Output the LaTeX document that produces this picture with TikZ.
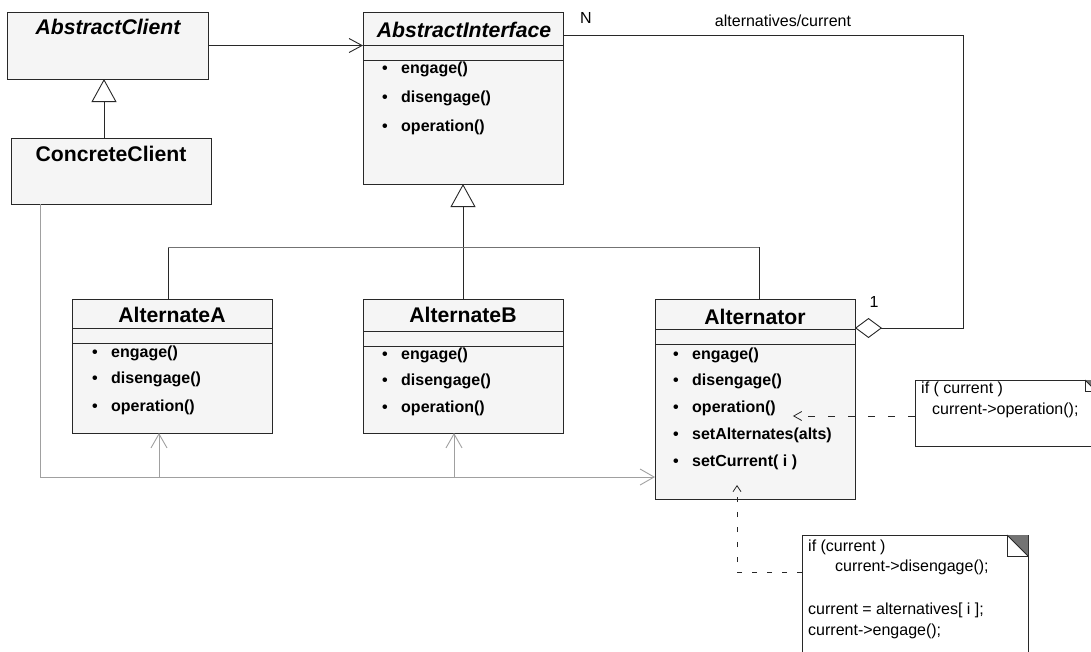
\documentclass[tikz,border=0pt]{standalone}
\usepackage{fontspec}
\setmainfont{Liberation Sans}
\usetikzlibrary{arrows.meta,positioning,calc}
\definecolor{boxfill}{RGB}{245,245,245}
\definecolor{umlline}{RGB}{40,40,40}
\definecolor{depgray}{RGB}{160,160,160}
\definecolor{bargray}{RGB}{115,115,115}
\definecolor{eargray}{RGB}{115,115,115}
\newcommand{\opitem}[1]{\makebox[19pt][l]{\textbullet}#1}
\tikzset{
  classbox/.style={rectangle,draw=umlline,fill=boxfill,line width=0.9pt,inner sep=0pt,outer sep=0pt,anchor=north west},
  classtitle/.style={inner sep=0pt,font=\fontsize{21.2}{25}\selectfont\bfseries},
  abstitle/.style={inner sep=0pt,font=\fontsize{21.2}{25}\selectfont\bfseries\itshape},
  method/.style={anchor=west,inner sep=0pt,font=\fontsize{16}{19}\selectfont\bfseries},
  sepline/.style={draw=umlline,line width=0.8pt},
  lbl/.style={inner sep=0pt,font=\fontsize{16}{19}\selectfont},
  note/.style={rectangle,draw=umlline,fill=white,line width=0.9pt,inner sep=0pt,outer sep=0pt,anchor=north west},
  notetext/.style={anchor=west,inner sep=0pt,font=\fontsize{16}{19}\selectfont},
  assocarr/.style={-{Straight Barb[length=13pt,width=14pt]},line width=0.9pt,color=umlline},
  inharr/.style={-{Triangle[open,fill=white,length=23pt,width=25pt]},line width=0.9pt,color=umlline},
  treeline/.style={line width=0.9pt,color=umlline},
  treebar/.style={line width=1pt,color=bargray},
  aggrline/.style={{Diamond[open,fill=white,length=27pt,width=20pt]}-,line width=0.9pt,color=umlline},
  deparr/.style={-{Straight Barb[length=14pt,width=16pt]},line width=0.9pt,color=depgray},
  depline/.style={line width=0.9pt,color=depgray},
  notearr/.style={-{Straight Barb[length=8pt,width=9pt]},line width=0.8pt,color=umlline,dash pattern=on 7pt off 13pt},
  notearrb/.style={-{Straight Barb[length=6pt,width=8pt]},line width=0.8pt,color=umlline,dash pattern=on 5pt off 10pt}
}

\begin{document}
\begin{tikzpicture}[x=1pt,y=-1pt]
  \useasboundingbox (0,0) rectangle (1091,651);
  \clip (0,0) rectangle (1091,651);

  %% Classes
  \node[classbox,minimum width=201pt,minimum height=67pt] (abclient) at (7,12) {};
  \node[abstitle] at (108,27) {AbstractClient};
  \node[classbox,minimum width=200pt,minimum height=66pt] (concl) at (11,138) {};
  \node[classtitle] at (111,154) {ConcreteClient};

  \node[classbox,minimum width=200pt,minimum height=172pt] (abiface) at (363,12) {};
  \node[abstitle] at (464,30) {AbstractInterface};

  \node[classbox,minimum width=200pt,minimum height=134pt] (altA) at (72,299) {};
  \node[classtitle] at (172,315) {AlternateA};
  \node[classbox,minimum width=200pt,minimum height=134pt] (altB) at (363,299) {};
  \node[classtitle] at (463,315) {AlternateB};
  \node[classbox,minimum width=200pt,minimum height=200pt] (altor) at (655,299) {};
  \node[classtitle] at (755,317) {Alternator};

  %% Compartment lines
  \foreach \c/\a/\b in {abiface/33/48,altA/29/44,altB/32/47,altor/30/45} {
    \draw[sepline] ([yshift=-\a pt]\c.north west) -- ([yshift=-\a pt]\c.north east);
    \draw[sepline] ([yshift=-\b pt]\c.north west) -- ([yshift=-\b pt]\c.north east);
  }

  %% Operations
  \foreach \y/\m [count=\i] in {69/engage(),98/disengage(),127/operation()}
    \node[method] (abiface-m\i) at (382,\y) {\opitem{\m}};
  \foreach \y/\m [count=\i] in {353/engage(),379/disengage(),407/operation()}
    \node[method] (altA-m\i) at (92,\y) {\opitem{\m}};
  \foreach \y/\m [count=\i] in {355/engage(),381/disengage(),408/operation()}
    \node[method] (altB-m\i) at (382,\y) {\opitem{\m}};
  \foreach \y/\m [count=\i] in {355/engage(),381/disengage(),408/operation(),435/setAlternates(alts),462/setCurrent( i )}
    \node[method] (altor-m\i) at (673,\y) {\opitem{\m}};

  %% Association and inheritance
  \draw[assocarr] (abclient.east) -- (abiface.west |- abclient.east);
  \draw[inharr] ([xshift=-7pt]concl.north) -- ([xshift=-3.5pt]abclient.south);
  \draw[inharr] (altB.north) -- (abiface.south);
  \draw[treeline] ([xshift=-4pt]altA.north) -- ++(0,-52) coordinate (tl);
  \draw[treeline] ([xshift=4pt]altor.north) -- ++(0,-52) coordinate (tr);
  \draw[treebar] (tl) -- (tr);

  %% Aggregation
  \draw[aggrline] ([yshift=-29pt]altor.north east) -- ++(108,0) |- ([yshift=-23pt]abiface.north east);
  \node[lbl] at (586,18) {N};
  \node[lbl] at (783,21) {alternatives/current};
  \node[lbl] at (874,302) {1};

  %% Client uses
  \coordinate (bus) at ([yshift=-78pt]altor.west);
  \coordinate (tapA) at ([xshift=-13pt]altA.south);
  \coordinate (tapB) at ([xshift=-9pt]altB.south);
  \draw[deparr] ([xshift=-71pt]concl.south) |- (bus);
  \draw[deparr] (tapA |- bus) -- (tapA);
  \draw[deparr] (tapB |- bus) -- (tapB);

  %% Notes
  \node[note,minimum width=181pt,minimum height=66pt] (noteop) at (915,380) {};
  \node[note,minimum width=226pt,minimum height=140pt] (notecur) at (802,535) {};
  \foreach \n/\f in {noteop/11,notecur/21} {
    \fill[eargray] ([xshift=-\f pt]\n.north east) -- (\n.north east) -- ++(0,\f) -- cycle;
    \draw[line width=0.9pt,umlline] ([xshift=-\f pt]\n.north east) -- ++(0,\f) -- ++(\f,0);
    \draw[line width=0.9pt,umlline] ([xshift=-\f pt]\n.north east) -- ++(\f,\f);
  }
  \node[notetext] at (921,389) {if ( current )};
  \node[notetext] at (932,410) {current->operation();};
  \node[notetext] at (808,547) {if (current )};
  \node[notetext] at (835,567) {current->disengage();};
  \node[notetext] at (808,610) {current = alternatives[ i ];};
  \node[notetext] at (808,631) {current->engage();};

  \draw[notearr] ([yshift=-3pt]noteop.west) -- ([shift={(17pt,-8pt)}]altor-m3.east);
  \draw[notearrb] ([yshift=-37pt]notecur.north west) -| ([shift={(-18pt,14pt)}]altor.south);
\end{tikzpicture}
\end{document}
